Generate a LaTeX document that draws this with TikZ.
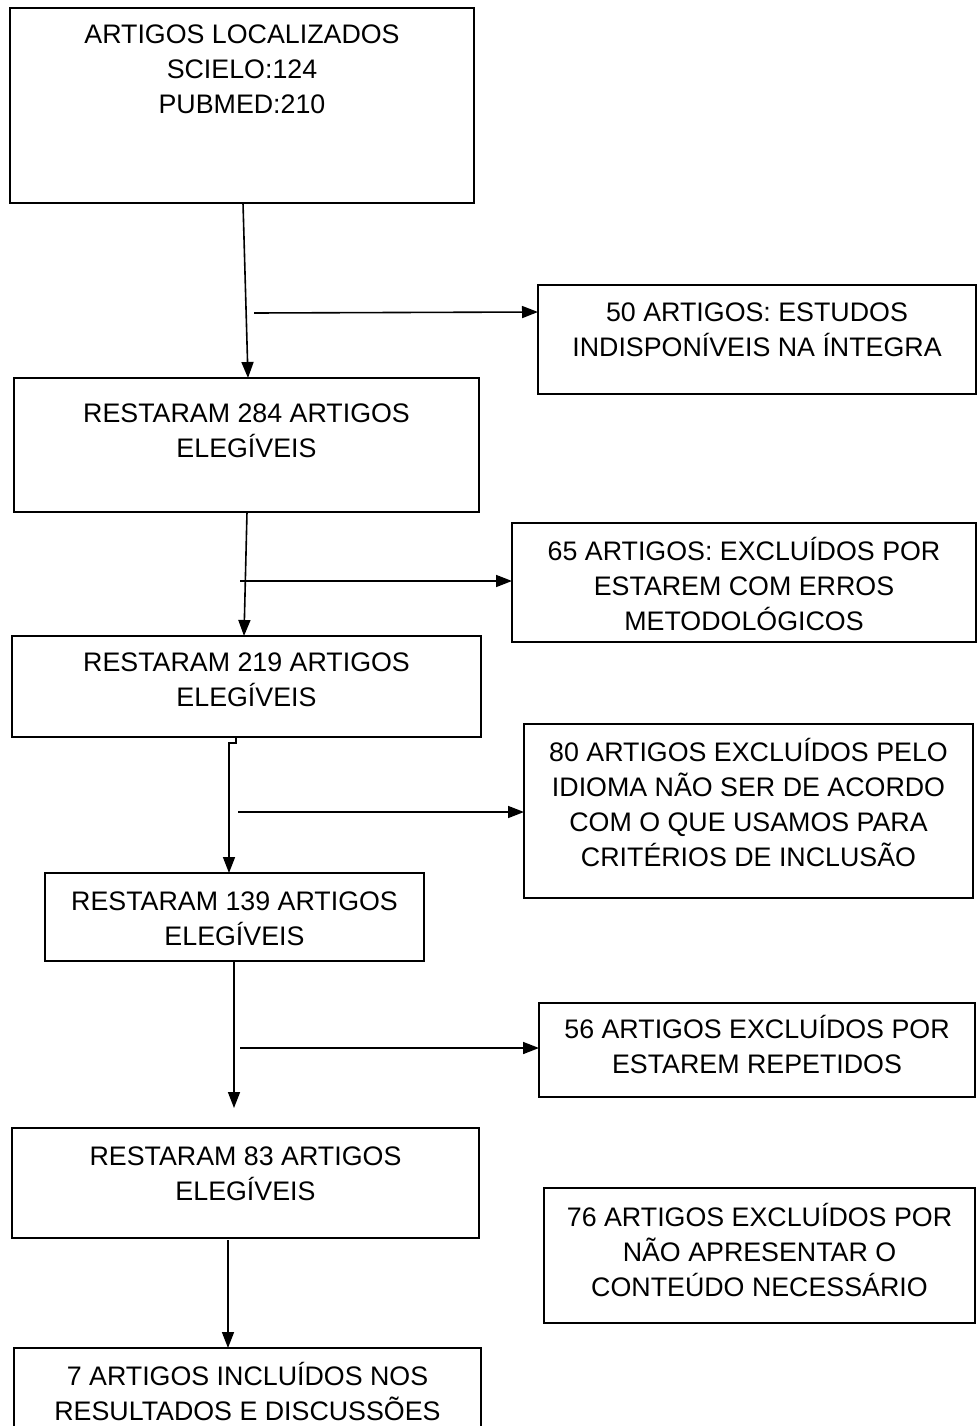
\documentclass[tikz,border=0pt]{standalone}
\usepackage{fontspec}
\setmainfont{Liberation Sans}
\usetikzlibrary{calc,arrows.meta}
\tikzset{
  boxnode/.style={draw=black, line width=1.8pt, inner sep=0pt, outer sep=0pt, anchor=north west},
  txt/.style={font=\fontsize{26.8}{35}\selectfont, align=center, inner sep=0pt, anchor=north},
  conn/.style={line width=1.6pt, -{Triangle[length=16pt,width=12pt]}},
}
\newcommand{\bx}[5]{\node[boxnode, minimum width=#4pt-#2pt, minimum height=#5pt-#3pt] (#1) at (#2,#3) {};}
\begin{document}
\begin{tikzpicture}[x=1pt,y=-1pt]
\useasboundingbox[fill=white] (0,0) rectangle (979,1426);
% boxes
\bx{b1}{10}{8}{474}{203}
\bx{b50}{538}{285}{976}{394}
\bx{b284}{14}{378}{479}{512}
\bx{b65}{512}{523}{976}{642}
\bx{b219}{12}{636}{481}{737}
\bx{b80}{524}{724}{973}{898}
\bx{b139}{45}{873}{424}{961}
\bx{b56}{539}{1003}{975}{1097}
\bx{b83}{12}{1128}{479}{1238}
\bx{b76}{544}{1188}{975}{1323}
\bx{b7}{14}{1348}{481}{1445}
% texts
\node[txt] (t1) at ($(b1.north)+(0,9)$) {\rule{0pt}{26pt}ARTIGOS LOCALIZADOS\\SCIELO:124\\PUBMED:210};
\node[txt] (t50) at ($(b50.north)+(0,10)$) {\rule{0pt}{26pt}50 ARTIGOS: ESTUDOS\\INDISPONÍVEIS NA ÍNTEGRA};
\node[txt] (t284) at ($(b284.north)+(0,18)$) {\rule{0pt}{26pt}RESTARAM 284 ARTIGOS\\ELEGÍVEIS};
\node[txt] (t65) at ($(b65.north)+(0,11)$) {\rule{0pt}{26pt}65 ARTIGOS: EXCLUÍDOS POR\\ESTAREM COM ERROS\\METODOLÓGICOS};
\node[txt] (t219) at ($(b219.north)+(0,9)$) {\rule{0pt}{26pt}RESTARAM 219 ARTIGOS\\ELEGÍVEIS};
\node[txt] (t80) at ($(b80.north)+(0,11)$) {\rule{0pt}{26pt}80 ARTIGOS EXCLUÍDOS PELO\\IDIOMA NÃO SER DE ACORDO\\COM O QUE USAMOS PARA\\CRITÉRIOS DE INCLUSÃO};
\node[txt] (t139) at ($(b139.north)+(0,11)$) {\rule{0pt}{26pt}RESTARAM 139 ARTIGOS\\ELEGÍVEIS};
\node[txt] (t56) at ($(b56.north)+(0,9)$) {\rule{0pt}{26pt}56 ARTIGOS EXCLUÍDOS POR\\ESTAREM REPETIDOS};
\node[txt] (t83) at ($(b83.north)+(0,11)$) {\rule{0pt}{26pt}RESTARAM 83 ARTIGOS\\ELEGÍVEIS};
\node[txt] (t76) at ($(b76.north)+(0,12)$) {\rule{0pt}{26pt}76 ARTIGOS EXCLUÍDOS POR\\NÃO APRESENTAR O\\CONTEÚDO NECESSÁRIO};
\node[txt] (t7) at ($(b7.north)+(0,11)$) {\rule{0pt}{26pt}7 ARTIGOS INCLUÍDOS NOS\\RESULTADOS E DISCUSSÕES};
% free-end coordinates
\coordinate (h1) at (254,313);
\coordinate (h2) at (240,581);
\coordinate (h3) at (238,812);
\coordinate (h4) at (240,1048);
\coordinate (e1) at (234,1108);
% vertical connectors
\draw[conn] ($(b1.south west)+(233,0)$) -- ($(b284.north west)+(234,0)$);
\draw[conn] ($(b284.south west)+(233,0)$) -- ($(b219.north west)+(232,0)$);
\draw[conn] ($(b219.south west)+(224,0)$) -- ++(0,6) -- ++(-7,0) -- ($(b139.north west)+(184,0)$);
\draw[conn] ($(b139.south west)+(189,0)$) -- (e1);
\draw[conn] ($(b83.south west)+(216,2)$) -- ($(b7.north west)+(214,0)$);
% horizontal connectors
\draw[conn] (h1) -- ($(b50.north west)+(0,27)$);
\draw[conn] (h2) -- ($(b65.north west)+(0,58)$);
\draw[conn] (h3) -- ($(b80.north west)+(0,88)$);
\draw[conn] (h4) -- ($(b56.north west)+(0,45)$);
\end{tikzpicture}
\end{document}
